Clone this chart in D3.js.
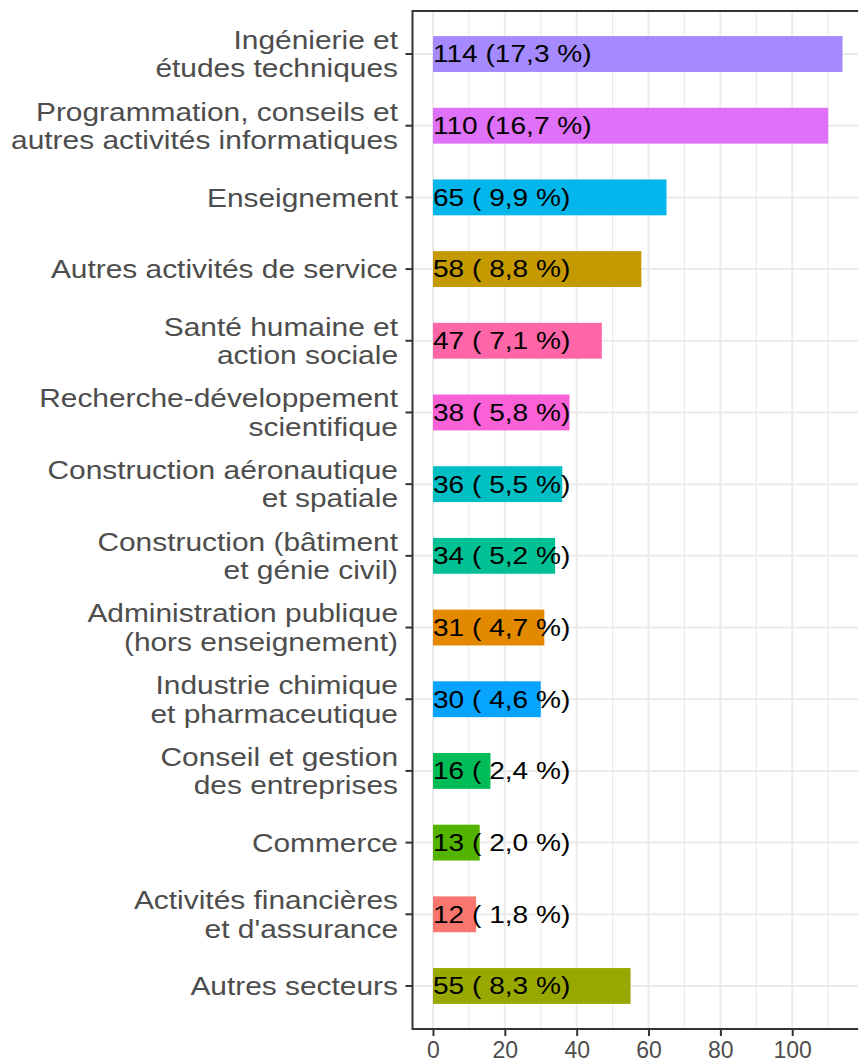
<!DOCTYPE html>
<html>
<head>
<meta charset="utf-8">
<script src="https://cdn.jsdelivr.net/npm/d3@7"></script>
<style>
  body { margin: 0; background: #fff; }
  text { font-family: "Liberation Sans", Arial, sans-serif; }
</style>
</head>
<body>
<div id="chart"></div>
<script>
var width = 858;
var height = 1063;

// categories, top to bottom (lines of each label)
var sectors = [
  ["Ingénierie et", "études techniques"],
  ["Programmation, conseils et", "autres activités informatiques"],
  ["Enseignement"],
  ["Autres activités de service"],
  ["Santé humaine et", "action sociale"],
  ["Recherche-développement", "scientifique"],
  ["Construction aéronautique", "et spatiale"],
  ["Construction (bâtiment", "et génie civil)"],
  ["Administration publique", "(hors enseignement)"],
  ["Industrie chimique", "et pharmaceutique"],
  ["Conseil et gestion", "des entreprises"],
  ["Commerce"],
  ["Activités financières", "et d'assurance"],
  ["Autres secteurs"]
];
var counts = [114, 110, 65, 58, 47, 38, 36, 34, 31, 30, 16, 13, 12, 55];
var shares = ["17,3", "16,7", " 9,9", " 8,8", " 7,1", " 5,8", " 5,5", " 5,2", " 4,7", " 4,6", " 2,4", " 2,0", " 1,8", " 8,3"];
var colors = ["#A58AFF", "#DF70F8", "#00B6EB", "#C49A00", "#FF66A8", "#FB61D7", "#00BFC4",
  "#00C094", "#E38900", "#06A4FF", "#00BC56", "#53B400", "#F8766D", "#99A800"];
var xTicks = [0, 20, 40, 60, 80, 100];
var xMinor = [10, 30, 50, 70, 90, 110];

var data = sectors.map(function(s, i) {
  return { id: i, lines: s, n: counts[i], pct: shares[i], color: colors[i] };
});

var panel = { left: 412.5, top: 11, right: 863, bottom: 1029 };

var svg = d3
  .select("#chart")
  .append("svg")
  .attr("width", width)
  .attr("height", height);

var maxN = d3.max(counts);
var x = d3
  .scaleLinear()
  .domain([-0.05 * maxN, 1.05 * maxN])
  .range([panel.left, panel.right]);

var y = d3
  .scalePoint()
  .domain(data.map(function(d) { return d.id; }))
  .range([panel.top, panel.bottom])
  .padding(0.6);

var barH = y.step() * 0.5;

// grid
svg.selectAll(".minor")
  .data(xMinor)
  .enter()
  .append("line")
  .attr("x1", function(d) { return x(d); })
  .attr("x2", function(d) { return x(d); })
  .attr("y1", panel.top)
  .attr("y2", panel.bottom)
  .attr("stroke", "#EBEBEB")
  .attr("stroke-width", 1.2);

svg.selectAll(".major")
  .data(xTicks)
  .enter()
  .append("line")
  .attr("x1", function(d) { return x(d); })
  .attr("x2", function(d) { return x(d); })
  .attr("y1", panel.top)
  .attr("y2", panel.bottom)
  .attr("stroke", "#EBEBEB")
  .attr("stroke-width", 2);

svg.selectAll(".hgrid")
  .data(data)
  .enter()
  .append("line")
  .attr("x1", panel.left)
  .attr("x2", panel.right)
  .attr("y1", function(d) { return y(d.id); })
  .attr("y2", function(d) { return y(d.id); })
  .attr("stroke", "#EBEBEB")
  .attr("stroke-width", 2);

// bars
svg.selectAll(".bar")
  .data(data)
  .enter()
  .append("rect")
  .attr("x", x(0))
  .attr("y", function(d) { return y(d.id) - barH / 2; })
  .attr("width", function(d) { return x(d.n) - x(0); })
  .attr("height", barH)
  .attr("fill", function(d) { return d.color; });

// bar labels (the source font runs wider than Liberation Sans)
svg.selectAll(".lab")
  .data(data)
  .enter()
  .append("text")
  .attr("transform", function(d) {
    return "translate(" + x(0) + "," + y(d.id) + ") scale(1.17,1)";
  })
  .attr("dy", "0.35em")
  .attr("font-size", 24)
  .attr("fill", "#000")
  .style("white-space", "pre")
  .text(function(d) { return d.n + " (" + d.pct + " %)"; });

// panel border
svg.append("rect")
  .attr("x", panel.left)
  .attr("y", panel.top)
  .attr("width", panel.right - panel.left)
  .attr("height", panel.bottom - panel.top)
  .attr("fill", "none")
  .attr("stroke", "#333333")
  .attr("stroke-width", 2);

// x axis
var xAxis = svg.append("g")
  .attr("transform", "translate(0," + panel.bottom + ")")
  .call(d3.axisBottom(x).tickValues(xTicks).tickSize(7).tickPadding(6));
xAxis.select(".domain").remove();
xAxis.selectAll("line").attr("stroke", "#333333").attr("stroke-width", 2);
xAxis.selectAll("text")
  .attr("font-size", 23)
  .attr("fill", "#4D4D4D")
  .attr("font-family", "'Liberation Sans', Arial, sans-serif");

// y ticks and labels
svg.selectAll(".ytick")
  .data(data)
  .enter()
  .append("line")
  .attr("x1", panel.left - 7)
  .attr("x2", panel.left)
  .attr("y1", function(d) { return y(d.id); })
  .attr("y2", function(d) { return y(d.id); })
  .attr("stroke", "#333333")
  .attr("stroke-width", 2);

var lineH = 28.5;
var ylab = svg.selectAll(".ylab")
  .data(data)
  .enter()
  .append("text")
  .attr("text-anchor", "end")
  .attr("font-size", 26)
  .attr("fill", "#4D4D4D")
  .attr("transform", function(d) {
    return "translate(398," + y(d.id) + ") scale(1.15,1)";
  });

ylab.selectAll("tspan")
  .data(function(d) {
    return d.lines.map(function(l, i) {
      return { t: l, dy: (i - (d.lines.length - 1) / 2) * lineH };
    });
  })
  .enter()
  .append("tspan")
  .attr("x", 0)
  .attr("y", function(d) { return d.dy; })
  .attr("dy", "0.35em")
  .text(function(d) { return d.t; });
</script>
</body>
</html>
